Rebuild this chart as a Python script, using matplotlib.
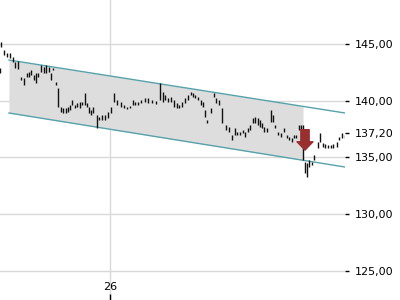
import numpy as np
import matplotlib
matplotlib.use("Agg")
import matplotlib.pyplot as plt


# bar positions (time axis) with high / low prices
t = [0, 1, 4, 7, 10, 13, 15, 18, 21, 24, 27, 29, 31, 34, 36, 38, 41, 44, 46, 49,
     51, 53, 56, 58, 61, 63, 66, 68, 70, 72, 75, 77, 80, 82, 85, 87, 89, 91, 93, 97,
     99, 102, 105, 108, 111, 114, 117, 121, 124, 127, 130, 133, 135, 138, 141, 145, 148, 152, 156, 160,
     163, 165, 168, 171, 174, 177, 179, 182, 185, 188, 191, 193, 195, 198, 201, 203, 205, 207, 211, 214,
     216, 219, 222, 226, 229, 232, 235, 237, 240, 243, 245, 248, 250, 253, 255, 258, 260, 262, 264, 267,
     271, 273, 275, 278, 281, 284, 287, 289, 292, 294, 296, 299, 301, 303, 305, 307, 309, 312, 314, 318,
     320, 323, 325, 328, 331, 333, 337, 339, 342, 345]

high = [142.89, 145.18, 144.47, 144.21, 144.21, 143.85, 143.41, 143.50, 142.09, 142.00,
        142.44, 142.53, 142.71, 142.27, 142.44, 142.44, 143.15, 142.97, 143.15, 142.97,
        142.44, 142.89, 141.65, 141.12, 139.45, 139.36, 139.36, 139.45, 139.63, 140.07,
        139.63, 139.80, 139.89, 139.89, 140.68, 139.80, 139.45, 139.19, 139.45, 138.74,
        138.57, 138.74, 138.74, 139.01, 139.45, 140.68, 140.07, 139.89, 139.63, 139.45,
        139.54, 140.07, 139.89, 139.89, 140.07, 140.24, 140.24, 140.07, 139.98, 141.56,
        140.77, 140.51, 140.24, 140.33, 140.07, 139.80, 139.63, 139.89, 140.24, 140.51,
        140.77, 140.68, 140.51, 140.33, 140.07, 139.89, 139.19, 138.30, 139.36, 140.68,
        140.24, 140.07, 139.36, 137.86, 137.69, 136.98, 137.60, 137.25, 137.25, 137.42,
        137.25, 137.60, 137.86, 138.48, 138.57, 138.48, 138.30, 138.04, 137.69, 137.60,
        139.19, 138.74, 137.86, 137.25, 137.16, 137.60, 136.98, 136.81, 136.72, 136.98,
        136.98, 137.86, 137.86, 137.86, 134.60, 134.52, 134.78, 134.60, 135.22, 136.37,
        137.16, 136.28, 136.19, 136.10, 136.10, 136.19, 136.37, 136.81, 137.16, 136.98]

low = [142.44, 144.74, 144.03, 143.85, 143.77, 143.41, 142.89, 142.80, 141.83, 141.39,
       142.09, 142.09, 142.27, 141.83, 141.56, 142.09, 142.53, 142.44, 142.44, 142.53,
       141.83, 142.71, 141.39, 139.45, 139.01, 138.92, 138.92, 139.01, 139.19, 139.63,
       139.36, 139.45, 139.36, 139.63, 139.63, 139.45, 138.92, 138.74, 138.92, 137.60,
       138.30, 138.30, 138.30, 138.48, 138.92, 139.89, 139.63, 139.45, 139.36, 139.27,
       139.36, 139.63, 139.63, 139.63, 139.80, 139.89, 139.80, 139.80, 139.71, 140.07,
       139.89, 140.07, 139.89, 139.89, 139.45, 139.36, 139.36, 139.45, 139.80, 140.07,
       140.51, 140.33, 140.24, 140.07, 139.63, 139.45, 138.57, 138.04, 138.92, 140.33,
       139.80, 139.63, 138.04, 137.42, 137.25, 136.54, 136.98, 136.98, 136.98, 137.16,
       136.81, 137.25, 137.42, 138.04, 138.04, 137.86, 137.69, 137.60, 137.25, 137.25,
       138.13, 138.13, 137.60, 136.98, 136.81, 137.25, 136.72, 136.54, 136.37, 136.72,
       136.72, 137.42, 137.42, 134.78, 133.63, 133.28, 134.16, 134.34, 134.78, 135.84,
       136.37, 135.93, 135.84, 135.84, 135.84, 135.84, 135.93, 136.54, 136.72, 136.72]

# trend channel (start / end)
channel_t = [9, 345]
channel_upper = [143.59, 138.92]
channel_lower = [138.92, 134.16]
shade_end = 303

# signal arrow
signal_t = 305
signal_from = 137.45
signal_to = 135.65

last_price = 137.20
y_ticks = [125, 130, 135, 140, 145]
x_tick = 110
x_tick_label = "26"

fig = plt.figure(figsize=(4, 3), dpi=100)
ax = fig.add_axes([0, 0, 345 / 400, 1])

ax.set_xlim(0, 345)
ax.set_ylim(122.44, 148.88)

# grid
for y in y_ticks:
    ax.axhline(y, color="#d9d9d9", lw=1, zorder=0)
ax.axvline(x_tick, color="#d9d9d9", lw=1, zorder=0)

# channel shading and lines
ts = np.linspace(channel_t[0], shade_end, 50)
ax.fill_between(ts, np.interp(ts, channel_t, channel_lower),
                np.interp(ts, channel_t, channel_upper),
                color="#dddddd", lw=0, zorder=1)
ax.plot(channel_t, channel_upper, color="#55a2aa", lw=1, zorder=2)
ax.plot(channel_t, channel_lower, color="#55a2aa", lw=1, zorder=2)

# price bars
ax.vlines(t, low, high, color="#111111", lw=1.0, zorder=3)

# signal arrow
ax.annotate("", xy=(signal_t, signal_to), xytext=(signal_t, signal_from),
            arrowprops=dict(arrowstyle="simple,head_length=6,head_width=11.5,tail_width=6",
                            mutation_scale=1, color="#9a2f2f",
                            shrinkA=0, shrinkB=0),
            zorder=4)

for s in ax.spines.values():
    s.set_visible(False)

ax.yaxis.tick_right()
ax.set_yticks(y_ticks + [last_price])
ax.set_yticklabels([f"{v:.2f}".replace(".", ",") for v in y_ticks + [last_price]])
ax.tick_params(axis="y", direction="out", length=3, pad=4, labelsize=8, width=1)

ax.set_xticks([x_tick])
ax.set_xticklabels([x_tick_label])
ax.tick_params(axis="x", direction="in", length=4, pad=-13, labelsize=8, width=1)

fig.savefig("out.png", dpi=100)
